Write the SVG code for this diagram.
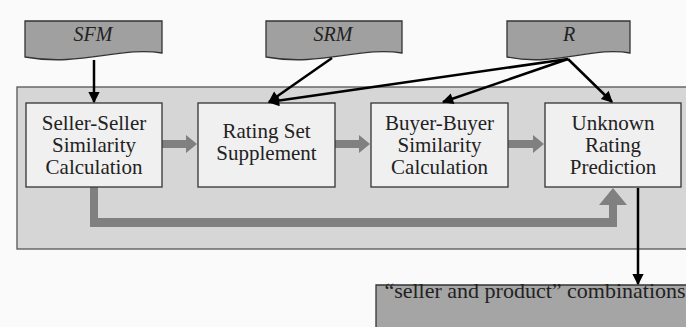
<svg xmlns="http://www.w3.org/2000/svg" width="686" height="327" viewBox="0 0 686 327">
<style>
.doc{fill:#a0a0a0;stroke:#333;stroke-width:1.3}
.box{fill:#f0f0f0;stroke:#333;stroke-width:1.3}
text{font-family:'Liberation Serif','DejaVu Serif',serif;font-size:21px;fill:#222;text-anchor:middle}
.ti{font-style:italic;font-size:20px}
.ln{stroke:#000;stroke-width:2.5;fill:none;marker-end:url(#ah)}
.fat{fill:#808080}
</style>
<defs>
<marker id="ah" viewBox="0 0 10 10" refX="9" refY="5" markerWidth="5" markerHeight="4.5" orient="auto" markerUnits="strokeWidth">
<path d="M0,0 L10,5 L0,10 Z" fill="#000"/>
</marker>
</defs>
<rect width="686" height="327" fill="#fafafa"/>
<rect id="container" x="17" y="87" width="690" height="162" fill="#d6d6d6" stroke="#555" stroke-width="1.3"/>

<g id="SFM">
<path class="doc" d="M25,21 H162 V53 C121,46 80,67 25,57 Z"/>
<text class="ti" x="93" y="41">SFM</text>
</g>
<g id="SRM">
<path class="doc" d="M266,21 H402 V53 C361,46 320,67 266,57 Z"/>
<text class="ti" x="333" y="41">SRM</text>
</g>
<g id="R">
<path class="doc" d="M507,21 H630 V53 C593,46 556,67 507,57 Z"/>
<text class="ti" x="569" y="41">R</text>
</g>

<g id="fat-arrows">
<polygon class="fat" points="162,140 186,140 186,135 197,144 186,153 186,148 162,148"/>
<polygon class="fat" points="335,140 359,140 359,135 370,144 359,153 359,148 335,148"/>
<polygon class="fat" points="508,140 533,140 533,135 544,144 533,153 533,148 508,148"/>
<polygon class="fat" points="90,187 90,227 617,227 617,205 627,205 613,188 599,205 609,205 609,218 98,218 98,187"/>
</g>

<g id="box1">
<rect class="box" x="26" y="103" width="136" height="84"/>
<text x="94" y="130">Seller-Seller</text>
<text x="94" y="152">Similarity</text>
<text x="94" y="174">Calculation</text>
</g>
<g id="box2">
<rect class="box" x="198" y="103" width="137" height="84"/>
<text x="266.5" y="138">Rating Set</text>
<text x="266.5" y="160">Supplement</text>
</g>
<g id="box3">
<rect class="box" x="371" y="103" width="137" height="84"/>
<text x="439.5" y="130">Buyer-Buyer</text>
<text x="439.5" y="152">Similarity</text>
<text x="439.5" y="174">Calculation</text>
</g>
<g id="box4">
<rect class="box" x="545" y="103" width="136" height="84"/>
<text x="613" y="130">Unknown</text>
<text x="613" y="152">Rating</text>
<text x="613" y="174">Prediction</text>
</g>

<g id="output">
<path class="doc" d="M376,285 H700 V330 H376 Z" style="fill:#a5a5a5"/>
<text x="535" y="298" style="font-size:22px">“seller and product” combinations</text>
</g>

<g id="connectors">
<line class="ln" x1="94" y1="60" x2="94" y2="102"/>
<line class="ln" x1="332" y1="58" x2="269" y2="102"/>
<line class="ln" x1="568" y1="59" x2="269" y2="102"/>
<line class="ln" x1="568" y1="59" x2="443" y2="102"/>
<line class="ln" x1="568" y1="59" x2="612" y2="102"/>
<line class="ln" x1="638" y1="188" x2="638" y2="284"/>
</g>
</svg>
